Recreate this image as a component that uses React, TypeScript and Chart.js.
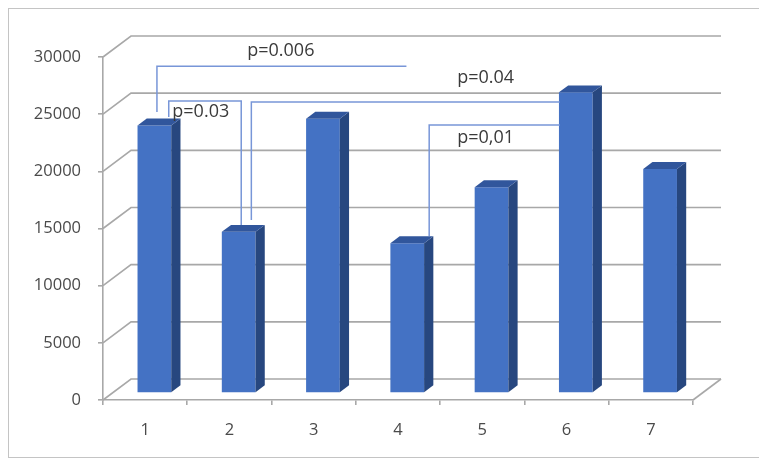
import React, { useEffect, useRef } from "react";
import { Chart, registerables } from "chart.js";

Chart.register(...registerables);

// ---- data ----
const categories = ["1", "2", "3", "4", "5", "6", "7"];
const values = [23400, 14100, 24000, 13100, 18000, 26300, 19600];
const yMin = 0;
const yMax = 30000;
const yStep = 5000;

// significance brackets (x in category index units, y in value units)
const pLabels = ["p=0.006", "p=0.03", "p=0.04", "p=0,01"];
const pFrom = [0.14, 0.28, 1.26, 3.37];
const pTo = [3.1, 1.14, 4.92, 4.92];
const pLevel = [29200, 26150, 26060, 24050];
const pFromBase = [25200, 24750, 15750, 14350];
const pToBase: (number | null)[] = [null, 15300, null, null];
const pLabelX = [1.61, 0.66, 4.04, 4.04];
const pLabelY = [30090, 24750, 27730, 22480];

// ---- style ----
const FONT = "'Open Sans', Lato, sans-serif";
const DEPTH_X = 28;
const DEPTH_Y = -21;
const BAR_FRONT = 0.33;
const BAR_DEPTH = 0.33;
const GRID = "#a8a8a8";
const TEXT = "#4a4a4a";

const threeD = {
  id: "threeD",
  beforeDatasetsDraw(chart: any) {
    const { ctx, chartArea, scales } = chart;
    const y = scales.y;
    ctx.save();
    ctx.strokeStyle = GRID;
    ctx.lineWidth = 1.6;
    for (let v = yMin; v <= yMax; v += yStep) {
      const py = y.getPixelForValue(v);
      ctx.beginPath();
      ctx.moveTo(chartArea.left, py);
      ctx.lineTo(chartArea.left + DEPTH_X, py + DEPTH_Y);
      ctx.lineTo(chartArea.right + DEPTH_X, py + DEPTH_Y);
      ctx.stroke();
    }
    const pb = y.getPixelForValue(yMin);
    ctx.beginPath();
    ctx.moveTo(chartArea.right, pb);
    ctx.lineTo(chartArea.right + DEPTH_X, pb + DEPTH_Y);
    ctx.stroke();
    ctx.restore();
    ctx.save();
    ctx.translate(DEPTH_X * BAR_FRONT, DEPTH_Y * BAR_FRONT);
  },
  afterDatasetsDraw(chart: any) {
    const { ctx } = chart;
    const meta = chart.getDatasetMeta(0);
    const dx = DEPTH_X * BAR_DEPTH;
    const dy = DEPTH_Y * BAR_DEPTH;
    meta.data.forEach((bar: any) => {
      const { x, y, base, width } = bar.getProps(["x", "y", "base", "width"], true);
      const l = x - width / 2;
      const r = x + width / 2;
      ctx.fillStyle = "#27477f";
      ctx.beginPath();
      ctx.moveTo(r, y);
      ctx.lineTo(r + dx, y + dy);
      ctx.lineTo(r + dx, base + dy);
      ctx.lineTo(r, base);
      ctx.closePath();
      ctx.fill();
      ctx.fillStyle = "#31569c";
      ctx.beginPath();
      ctx.moveTo(l, y);
      ctx.lineTo(l + dx, y + dy);
      ctx.lineTo(r + dx, y + dy);
      ctx.lineTo(r, y);
      ctx.closePath();
      ctx.fill();
    });
    ctx.restore();
  },
  afterDraw(chart: any) {
    const { ctx, scales } = chart;
    const xs = scales.x;
    const ys = scales.y;
    ctx.save();
    ctx.strokeStyle = "#7896d8";
    ctx.lineWidth = 1.5;
    pLabels.forEach((_, i) => {
      const x0 = xs.getPixelForValue(pFrom[i]);
      const x1 = xs.getPixelForValue(pTo[i]);
      const yl = ys.getPixelForValue(pLevel[i]);
      ctx.beginPath();
      ctx.moveTo(x0, ys.getPixelForValue(pFromBase[i]));
      ctx.lineTo(x0, yl);
      ctx.lineTo(x1, yl);
      const tb = pToBase[i];
      if (tb !== null) ctx.lineTo(x1, ys.getPixelForValue(tb));
      ctx.stroke();
    });
    ctx.fillStyle = "#3a3a3a";
    ctx.font = `18px ${FONT}`;
    ctx.textAlign = "center";
    ctx.textBaseline = "alphabetic";
    pLabels.forEach((t, i) => {
      ctx.fillText(t, xs.getPixelForValue(pLabelX[i]), ys.getPixelForValue(pLabelY[i]));
    });
    ctx.restore();
  },
};

export default function App() {
  const ref = useRef<HTMLCanvasElement | null>(null);
  useEffect(() => {
    if (!ref.current) return;
    const chart = new Chart(ref.current, {
      type: "bar",
      data: {
        labels: categories,
        datasets: [
          {
            data: values,
            backgroundColor: "#4472c4",
            borderWidth: 0,
            barPercentage: 0.4,
            categoryPercentage: 1,
            clip: false as any,
          },
        ],
      },
      options: {
        responsive: true,
        maintainAspectRatio: false,
        animation: false,
        layout: { padding: { top: 48, right: 66, bottom: 0, left: 0 } },
        plugins: { legend: { display: false }, tooltip: { enabled: false } },
        scales: {
          x: {
            grid: { drawOnChartArea: false, drawTicks: true, tickLength: 5, color: GRID, lineWidth: 1.6 },
            border: { color: GRID, width: 1.6 },
            ticks: { color: TEXT, font: { family: FONT, size: 16.5 }, padding: 15 },
            afterFit: (s: any) => {
              s.height = 57;
            },
          },
          y: {
            min: yMin,
            max: yMax,
            grid: { drawOnChartArea: false, drawTicks: true, tickLength: 5, color: GRID, lineWidth: 1.6 },
            border: { color: GRID, width: 1.6 },
            ticks: {
              stepSize: yStep,
              color: TEXT,
              font: { family: FONT, size: 16.5 },
              padding: 17,
              callback: (v: any) => String(v),
            },
            afterFit: (s: any) => {
              s.width = 94;
            },
          },
        },
      },
      plugins: [threeD],
    });
    return () => chart.destroy();
  }, []);
  return (
    <div
      style={{
        width: 752,
        height: 450,
        border: "1px solid #c4c4c4",
        boxSizing: "border-box",
        position: "relative",
        background: "#fff",
      }}
    >
      <canvas ref={ref} />
    </div>
  );
}
